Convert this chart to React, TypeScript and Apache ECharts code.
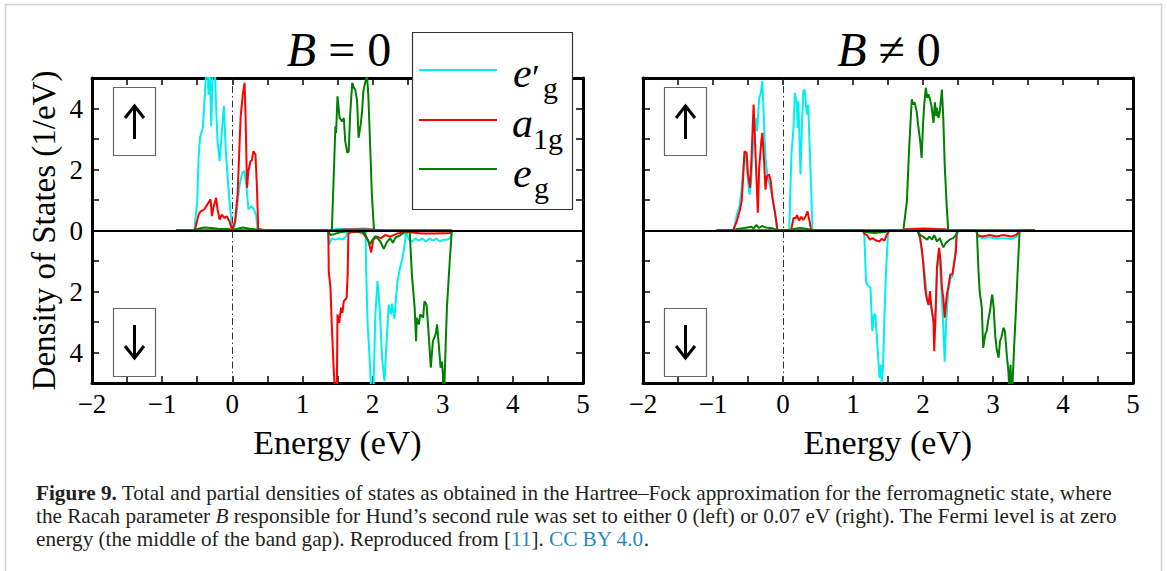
import React, { useEffect, useRef } from 'react';
import * as echarts from 'echarts';

const FONT = '"Liberation Serif", "Times New Roman", serif';

// Panel titles and orbital legend names
const panelTitles = ['{i|B} = 0', '{i|B} \u2260 0'];
const orbitalNames = ['e\u2032g', 'a1g', 'eg'];
const orbitalColors = ['#00f0f0', '#ff0000', '#008000'];
const energyRange = [-2, 5];
const dosRange = [-5, 5];

// ---- Left panel: B = 0  ([energy eV, DOS 1/eV], spin-down negative) ----
const leftEgpUp = [[-0.8,0],[-0.56,0],[-0.54,0.05],[-0.5,0.96],[-0.48,2.4],[-0.46,3.05],[-0.42,3.37],[-0.4,4.13],[-0.37,5.3],[-0.35,5.5],[-0.34,4.46],[-0.32,5.2],[-0.3,3.42],[-0.28,5.3],[-0.25,5.4],[-0.23,4.0],[-0.21,2.93],[-0.18,2.27],[-0.15,3.2],[-0.12,4.08],[-0.09,2.49],[-0.04,0.96],[0,0.05],[0.03,0.1],[0.057,0.52],[0.105,1.5],[0.14,1.89],[0.17,1.95],[0.2,1.5],[0.23,0.69],[0.27,0.8],[0.31,0.69],[0.34,0.5],[0.36,0.02],[0.5,0],[1.4,0],[1.5,0.05],[1.7,0.04],[1.9,0.07],[2.0,0.02],[2.1,0],[3.13,0]];
const leftA1gUp = [[-0.8,0],[-0.54,0],[-0.53,0.05],[-0.48,0.52],[-0.45,0.63],[-0.4,0.69],[-0.37,0.8],[-0.34,0.91],[-0.31,1.02],[-0.29,0.47],[-0.27,0.74],[-0.23,1.07],[-0.21,0.69],[-0.18,0.36],[-0.15,0.52],[-0.11,0.41],[-0.08,0.47],[-0.04,0.3],[0,0.02],[0.04,0.3],[0.076,1.18],[0.105,2.93],[0.12,3.75],[0.15,4.46],[0.175,4.84],[0.19,3.69],[0.21,1.4],[0.23,1.95],[0.26,2.27],[0.28,2.3],[0.3,2.6],[0.33,2.5],[0.35,1.5],[0.37,0.05],[0.5,0],[1.4,0],[1.6,0.03],[2.0,0.03],[2.1,0],[3.13,0]];
const leftEgUp = [[-0.8,0],[-0.55,0],[-0.5,0.05],[-0.4,0.1],[-0.3,0.08],[-0.2,0.06],[-0.05,0.05],[0,0],[0.05,0.04],[0.15,0.1],[0.25,0.06],[0.36,0.03],[0.5,0],[1.4,0],[1.42,0.05],[1.455,2.38],[1.47,3.42],[1.48,3.2],[1.5,4.4],[1.53,3.69],[1.565,3.58],[1.59,3.69],[1.61,2.93],[1.64,2.55],[1.66,2.6],[1.68,3.8],[1.71,4.84],[1.73,4.7],[1.755,4.6],[1.78,4.24],[1.8,3.04],[1.83,3.47],[1.85,3.9],[1.87,4.6],[1.9,4.9],[1.92,5.1],[1.94,4.4],[1.97,2.5],[1.99,1.18],[2.02,0.02],[2.2,0],[3.13,0]];
const leftEgpDown = [[-0.8,0],[1.36,0],[1.38,-0.46],[1.42,-0.26],[1.47,-0.3],[1.52,-0.26],[1.57,-0.3],[1.62,-0.2],[1.65,-0.05],[1.75,-0.03],[1.85,-0.1],[1.9,-0.02],[1.91,-1.44],[1.93,-3.08],[1.96,-4.28],[1.98,-5.3],[2.01,-5.5],[2.04,-2.75],[2.07,-1.66],[2.1,-2.48],[2.135,-4.17],[2.17,-4.94],[2.2,-3.63],[2.23,-2.43],[2.26,-2.75],[2.28,-2.4],[2.31,-2.9],[2.35,-1.77],[2.39,-1.23],[2.42,-0.96],[2.45,-0.6],[2.48,-0.05],[2.52,-0.3],[2.56,-0.36],[2.61,-0.26],[2.66,-0.33],[2.71,-0.26],[2.76,-0.36],[2.81,-0.26],[2.86,-0.33],[2.91,-0.26],[2.96,-0.36],[3.01,-0.3],[3.06,-0.3],[3.11,-0.25],[3.13,0]];
const leftA1gDown = [[-0.8,0],[1.36,0],[1.37,-0.1],[1.375,-1.33],[1.4,-1.88],[1.42,-3.19],[1.445,-4.5],[1.47,-5.5],[1.49,-5.3],[1.5,-2.75],[1.525,-3.03],[1.55,-2.53],[1.57,-2.7],[1.59,-2.32],[1.63,-2.21],[1.645,-1.44],[1.655,-0.1],[1.7,-0.05],[1.85,-0.05],[1.9,-0.2],[1.94,-0.33],[1.98,-0.72],[2.01,-0.3],[2.06,-0.2],[2.12,-0.25],[2.18,-0.15],[2.25,-0.2],[2.35,-0.1],[2.5,-0.05],[2.7,-0.1],[2.9,-0.1],[3.1,-0.08],[3.13,0]];
const leftEgDown = [[-0.8,0],[1.36,0],[1.4,-0.15],[1.45,-0.12],[1.55,-0.05],[1.7,-0.02],[1.88,-0.05],[1.92,-0.25],[1.96,-0.46],[2.0,-0.3],[2.04,-0.18],[2.11,-0.36],[2.16,-0.6],[2.2,-0.4],[2.25,-0.25],[2.29,-0.4],[2.33,-0.22],[2.38,-0.18],[2.44,-0.08],[2.5,0],[2.53,-0.05],[2.56,-1.44],[2.6,-2.53],[2.62,-3.63],[2.63,-2.86],[2.66,-3.08],[2.68,-2.75],[2.72,-2.86],[2.74,-2.32],[2.77,-2.43],[2.8,-3.4],[2.83,-4.5],[2.86,-3.63],[2.9,-3.4],[2.92,-3.08],[2.94,-3.63],[2.97,-4.5],[2.99,-4.3],[3.01,-4.94],[3.02,-5.5],[3.03,-4.6],[3.06,-2.53],[3.1,-1.0],[3.13,0]];

// ---- Right panel: B != 0 ----
const rightEgpUp = [[-0.95,0],[-0.72,0],[-0.7,0.05],[-0.66,0.52],[-0.62,0.8],[-0.59,1.4],[-0.57,1.95],[-0.54,2.6],[-0.51,1.9],[-0.48,1.18],[-0.46,1.5],[-0.43,2.6],[-0.41,3.04],[-0.39,3.69],[-0.37,3.26],[-0.34,4.35],[-0.32,4.46],[-0.295,4.9],[-0.27,3.47],[-0.25,2.38],[-0.22,1.73],[-0.19,1.5],[-0.15,1.07],[-0.11,0.52],[-0.08,0.02],[0.08,0],[0.09,0.05],[0.12,2.49],[0.15,3.36],[0.17,4.51],[0.195,4.2],[0.21,3.36],[0.22,4.24],[0.25,1.84],[0.27,3.47],[0.29,4.57],[0.31,4.62],[0.34,3.8],[0.36,4.13],[0.37,3.47],[0.4,1.5],[0.42,0.02],[0.6,0],[1.7,0],[1.75,0.05],[2.0,0.08],[2.2,0.06],[2.36,0.02],[2.5,0],[3.6,0]];
const rightA1gUp = [[-0.95,0],[-0.72,0],[-0.71,0.02],[-0.66,0.3],[-0.62,0.63],[-0.59,0.96],[-0.57,1.73],[-0.55,2.6],[-0.52,2.55],[-0.5,1.84],[-0.47,1.4],[-0.45,2.38],[-0.42,4.13],[-0.4,2.93],[-0.375,1.5],[-0.36,0.58],[-0.34,2.06],[-0.31,2.93],[-0.295,3.2],[-0.27,2.27],[-0.25,1.34],[-0.23,1.78],[-0.2,1.84],[-0.175,1.62],[-0.15,1.07],[-0.11,0.52],[-0.08,0.02],[0.1,0],[0.12,0.05],[0.15,0.41],[0.18,0.4],[0.2,0.5],[0.23,0.33],[0.26,0.45],[0.29,0.35],[0.32,0.45],[0.35,0.63],[0.38,0.3],[0.4,0.02],[0.6,0],[1.7,0],[1.75,0.04],[2.0,0.05],[2.3,0.04],[2.4,0],[3.6,0]];
const rightEgUp = [[-0.95,0],[-0.72,0],[-0.65,0.05],[-0.55,0.08],[-0.45,0.12],[-0.42,0.07],[-0.38,0.18],[-0.34,0.08],[-0.3,0.15],[-0.25,0.1],[-0.15,0.07],[-0.08,0.02],[0.1,0],[0.15,0.05],[0.25,0.08],[0.35,0.05],[0.42,0],[1.7,0],[1.72,0.03],[1.77,0.96],[1.8,2.6],[1.82,3.47],[1.84,4.3],[1.86,4.13],[1.88,4.2],[1.91,3.9],[1.93,3.47],[1.96,2.93],[1.98,2.38],[2.0,3.47],[2.02,4.2],[2.04,4.68],[2.06,4.35],[2.08,4.46],[2.1,4.3],[2.12,4.1],[2.15,3.53],[2.17,4.2],[2.19,3.75],[2.2,4.02],[2.22,3.69],[2.24,3.9],[2.27,4.62],[2.29,3.69],[2.31,2.16],[2.34,0.74],[2.36,0.02],[2.5,0],[3.6,0]];
const rightEgpDown = [[-0.95,0],[1.14,0],[1.16,-0.05],[1.186,-1.66],[1.2,-1.77],[1.25,-1.88],[1.276,-3.3],[1.3,-2.75],[1.32,-2.75],[1.35,-3.85],[1.38,-4.83],[1.4,-4.4],[1.41,-4.98],[1.43,-4.4],[1.45,-2.75],[1.47,-1.44],[1.5,-0.1],[1.52,0],[1.92,0],[1.95,-0.2],[1.98,-0.6],[2.03,-1.5],[2.06,-2.3],[2.08,-2.45],[2.1,-2.35],[2.12,-2.5],[2.15,-3.0],[2.18,-2.6],[2.2,-1.3],[2.23,-0.62],[2.26,-1.8],[2.29,-3.2],[2.31,-4.3],[2.33,-3.0],[2.36,-2.0],[2.39,-1.6],[2.42,-1.5],[2.45,-1.0],[2.48,-0.2],[2.5,-0.02],[2.76,0],[2.78,-0.2],[2.85,-0.25],[2.95,-0.22],[3.05,-0.27],[3.15,-0.25],[3.25,-0.28],[3.33,-0.22],[3.37,-0.05],[3.4,0],[3.6,0]];
const rightA1gDown = [[-0.95,0],[1.14,0],[1.16,-0.1],[1.2,-0.15],[1.24,-0.3],[1.28,-0.25],[1.33,-0.33],[1.38,-0.36],[1.41,-0.27],[1.45,-0.33],[1.48,-0.15],[1.52,0],[1.92,0],[1.93,-0.05],[1.96,-0.25],[1.98,-0.57],[2.0,-0.98],[2.03,-1.88],[2.05,-2.2],[2.08,-2.43],[2.1,-1.99],[2.12,-2.53],[2.15,-2.97],[2.16,-3.96],[2.18,-2.75],[2.2,-1.22],[2.23,-0.57],[2.25,-0.98],[2.27,-1.88],[2.29,-2.2],[2.31,-2.86],[2.34,-2.1],[2.36,-1.88],[2.39,-1.44],[2.42,-1.44],[2.45,-0.98],[2.47,-0.7],[2.48,-0.1],[2.49,0],[2.76,0],[2.78,-0.15],[2.85,-0.2],[2.95,-0.15],[3.05,-0.2],[3.15,-0.15],[3.25,-0.2],[3.33,-0.15],[3.37,-0.05],[3.4,0],[3.6,0]];
const rightEgDown = [[-0.95,0],[1.14,0],[1.18,-0.05],[1.3,-0.08],[1.45,-0.05],[1.52,0],[1.92,0],[1.96,-0.15],[2.0,-0.2],[2.03,-0.25],[2.06,-0.3],[2.09,-0.2],[2.13,-0.3],[2.16,-0.15],[2.2,-0.36],[2.24,-0.25],[2.29,-0.55],[2.33,-0.4],[2.38,-0.3],[2.43,-0.25],[2.48,-0.12],[2.5,0],[2.76,0],[2.77,-0.05],[2.795,-1.44],[2.81,-2.0],[2.84,-2.53],[2.86,-3.85],[2.89,-3.4],[2.91,-3.3],[2.93,-2.97],[2.96,-2.6],[2.98,-2.2],[2.99,-2.1],[3.01,-2.53],[3.03,-3.4],[3.05,-3.85],[3.08,-4.17],[3.1,-3.63],[3.12,-3.5],[3.15,-3.19],[3.17,-3.3],[3.2,-4.17],[3.22,-4.61],[3.24,-5.5],[3.25,-4.4],[3.27,-5.5],[3.3,-3.9],[3.33,-2.5],[3.35,-1.44],[3.38,0],[3.6,0]];

const captionLines = [
  '{b|Figure 9.} Total and partial densities of states as obtained in the Hartree\u2013Fock approximation for the ferromagnetic state, where',
  'the Racah parameter {i|B} responsible for Hund\u2019s second rule was set to either 0 (left) or 0.07 eV (right). The Fermi level is at zero',
  'energy (the middle of the band gap). Reproduced from [{l|11}]. {l|CC BY 4.0}.',
];

const panels = [
  { up: [leftEgpUp, leftA1gUp, leftEgUp], down: [leftEgpDown, leftA1gDown, leftEgDown] },
  { up: [rightEgpUp, rightA1gUp, rightEgUp], down: [rightEgpDown, rightA1gDown, rightEgDown] },
];

const grids = [
  { left: 92, top: 78, width: 491, height: 305 },
  { left: 643, top: 78, width: 490, height: 305 },
];

function xLabel(v: number) {
  const r = Math.round(v);
  if (Math.abs(v - r) > 1e-6) return '';
  return r < 0 ? '\u2212' + Math.abs(r) : String(r);
}
function yLabel(v: number) {
  const r = Math.round(v);
  if (Math.abs(v - r) > 1e-6 || r % 2 !== 0) return '';
  return String(Math.abs(r));
}

function buildOption() {
  const xAxis: any[] = [];
  const yAxis: any[] = [];
  const series: any[] = [];
  const axisLine = { show: true, onZero: false, lineStyle: { color: '#000', width: 3 } };
  const tick = { show: true, inside: true, length: 7, lineStyle: { color: '#000', width: 1.5 } };
  grids.forEach((g, p) => {
    xAxis.push({
      type: 'value', gridIndex: p, min: energyRange[0], max: energyRange[1], interval: 0.5,
      position: 'bottom', axisLine, axisTick: tick, splitLine: { show: false },
      axisLabel: { formatter: xLabel, color: '#000', fontFamily: FONT, fontSize: 27, margin: 7 },
      name: 'Energy (eV)', nameLocation: 'middle', nameGap: 42,
      nameTextStyle: { color: '#000', fontFamily: FONT, fontSize: 34 },
    });
    xAxis.push({
      type: 'value', gridIndex: p, min: energyRange[0], max: energyRange[1], interval: 0.5,
      position: 'top', axisLine, axisTick: tick, splitLine: { show: false }, axisLabel: { show: false },
    });
    yAxis.push({
      type: 'value', gridIndex: p, min: dosRange[0], max: dosRange[1], interval: 1,
      position: 'left', axisLine, axisTick: tick, splitLine: { show: false },
      axisLabel: { show: p === 0, formatter: yLabel, color: '#000', fontFamily: FONT, fontSize: 27, margin: 9 },
      name: p === 0 ? 'Density of States (1/eV)' : '', nameLocation: 'middle', nameGap: 32,
      nameTextStyle: { color: '#000', fontFamily: FONT, fontSize: 33 },
    });
    yAxis.push({
      type: 'value', gridIndex: p, min: dosRange[0], max: dosRange[1], interval: 1,
      position: 'right', axisLine, axisTick: tick, splitLine: { show: false }, axisLabel: { show: false },
    });
    const panel = panels[p];
    [0, 1, 2].forEach((k) => {
      [['\u2191', panel.up[k]], ['\u2193', panel.down[k]]].forEach(([spin, data]: any) => {
        series.push({
          name: orbitalNames[k] + ' ' + spin + (p === 0 ? ' B=0' : ' B\u22600'),
          type: 'line', xAxisIndex: p * 2, yAxisIndex: p * 2, data,
          showSymbol: false, symbol: 'none', clip: true, z: 2 + k,
          lineStyle: { color: orbitalColors[k], width: 2 }, itemStyle: { color: orbitalColors[k] },
        });
      });
    });
    series.push({
      name: 'reference lines ' + p, type: 'line', xAxisIndex: p * 2, yAxisIndex: p * 2, data: [], z: 8,
      markLine: {
        silent: true, symbol: ['none', 'none'], label: { show: false },
        data: [
          { yAxis: 0, lineStyle: { color: '#000', width: 1.8, type: 'solid' } },
          { xAxis: 0, lineStyle: { color: '#333', width: 1, type: [7, 3, 1.5, 3] } },
        ],
      },
    });
  });

  const graphics: any[] = [];
  // outer figure frame
  graphics.push({ type: 'rect', shape: { x: 5.5, y: 4.5, width: 1156, height: 620 }, style: { fill: 'none', stroke: '#cfcfcf', lineWidth: 1.5 }, z: 0, silent: true });
  // titles
  const titleX = [339, 889];
  panelTitles.forEach((t, i) => {
    graphics.push({
      type: 'text', x: titleX[i], y: 49, z: 50,
      style: { text: t, fill: '#000', fontFamily: FONT, fontSize: 48, align: 'center', verticalAlign: 'middle',
        rich: { i: { fontStyle: 'italic', fontFamily: FONT, fontSize: 48, fill: '#000' } } },
    });
  });
  // spin arrow boxes
  const boxX = [113, 664];
  boxX.forEach((bx) => {
    const cx = bx + 21.5;
    graphics.push({ type: 'rect', z: 50, shape: { x: bx + 0.5, y: 87.5, width: 42, height: 68 }, style: { fill: '#fff', stroke: '#666', lineWidth: 1.2 } });
    graphics.push({ type: 'rect', z: 50, shape: { x: bx + 0.5, y: 308.5, width: 42, height: 68 }, style: { fill: '#fff', stroke: '#666', lineWidth: 1.2 } });
    graphics.push({ type: 'line', z: 51, shape: { x1: cx, y1: 107, x2: cx, y2: 139 }, style: { stroke: '#000', lineWidth: 3 } });
    graphics.push({ type: 'polyline', z: 51, shape: { points: [[cx - 9.5, 118], [cx, 106], [cx + 9.5, 118]] }, style: { stroke: '#000', lineWidth: 3, fill: 'none' } });
    graphics.push({ type: 'line', z: 51, shape: { x1: cx, y1: 325, x2: cx, y2: 357 }, style: { stroke: '#000', lineWidth: 3 } });
    graphics.push({ type: 'polyline', z: 51, shape: { points: [[cx - 9.5, 346], [cx, 358], [cx + 9.5, 346]] }, style: { stroke: '#000', lineWidth: 3, fill: 'none' } });
  });
  // legend box
  graphics.push({ type: 'rect', z: 60, shape: { x: 412.5, y: 32.5, width: 160, height: 177 }, style: { fill: '#fff', stroke: '#333', lineWidth: 1.2 } });
  const legY = [70, 120, 169];
  legY.forEach((ly, k) => {
    graphics.push({ type: 'line', z: 61, shape: { x1: 419, y1: ly, x2: 497, y2: ly }, style: { stroke: orbitalColors[k], lineWidth: 2 } });
  });
  const txt = (text: string, x: number, baseline: number, size: number, italic: boolean) => ({
    type: 'text', z: 61, x, y: baseline - 0.3375 * size,
    style: { text, fill: '#000', fontFamily: FONT, fontSize: size, fontStyle: italic ? 'italic' : 'normal', align: 'left', verticalAlign: 'middle' },
  });
  graphics.push(txt('e', 513, 87, 42, true));
  graphics.push(txt('\u2032', 532, 90, 36, false));
  graphics.push(txt('g', 543, 98, 30, false));
  graphics.push(txt('a', 512, 137, 42, true));
  graphics.push(txt('1g', 533, 149, 30, false));
  graphics.push(txt('e', 513, 187, 42, true));
  graphics.push(txt('g', 534, 198, 30, false));
  // caption
  const capY = [493, 516, 539];
  const CAP = 21.2;
  captionLines.forEach((line, i) => {
    graphics.push({
      type: 'text', x: 36, y: capY[i], z: 50,
      style: {
        text: line, fill: '#231f20', fontFamily: FONT, fontSize: CAP, align: 'left', verticalAlign: 'middle',
        rich: {
          b: { fontWeight: 'bold', fontFamily: FONT, fontSize: CAP, fill: '#231f20' },
          i: { fontStyle: 'italic', fontFamily: FONT, fontSize: CAP, fill: '#231f20' },
          l: { fontFamily: FONT, fontSize: CAP, fill: '#1f8ac8' },
        },
      },
    });
  });

  return {
    animation: false,
    backgroundColor: '#fff',
    grid: grids.map((g) => ({ ...g, containLabel: false })),
    xAxis, yAxis, series, graphic: graphics,
  };
}

export default function App() {
  const ref = useRef<HTMLDivElement>(null);
  useEffect(() => {
    if (!ref.current) return;
    const chart = echarts.init(ref.current, undefined, { renderer: 'svg' });
    chart.setOption(buildOption() as any);
    return () => chart.dispose();
  }, []);
  return <div ref={ref} style={{ position: 'fixed', left: 0, top: 0, width: 1167, height: 571, background: '#fff' }} />;
}
